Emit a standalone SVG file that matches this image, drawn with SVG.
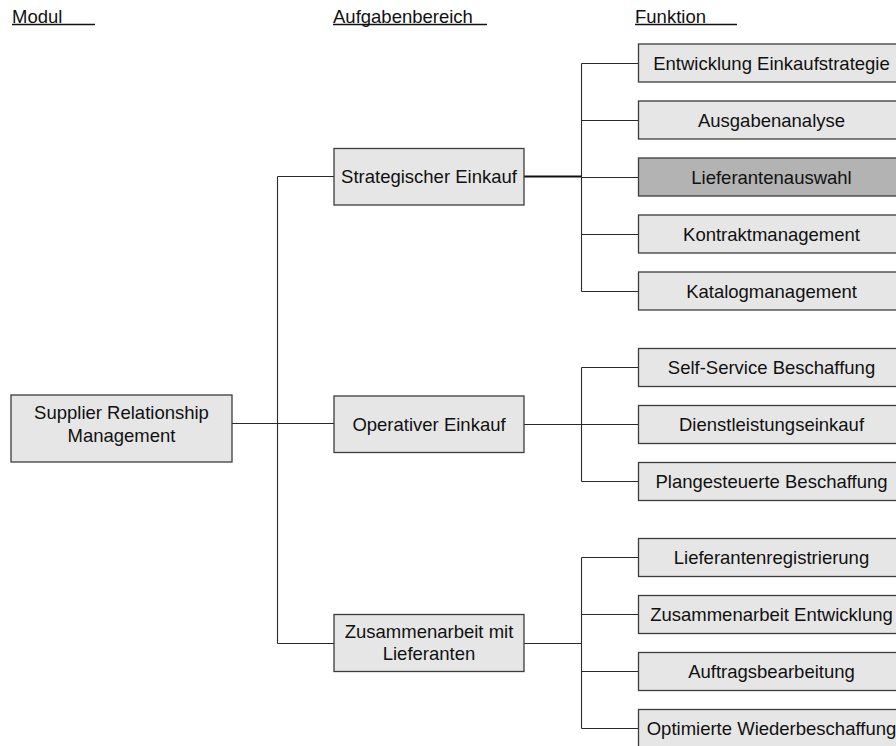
<svg xmlns="http://www.w3.org/2000/svg" width="896" height="746" viewBox="0 0 896 746">
  <style>
    text { font-family: "Liberation Sans", Arial, sans-serif; font-size: 18.5px; fill: #111; }
    .lbl { text-anchor: middle; }
    .box { fill: #e6e6e6; stroke: #3c3c3c; stroke-width: 1.3; }
    .hl { fill: #b3b3b3; }
    .con { stroke: #2a2a2a; stroke-width: 1.1; fill: none; }
    .thick { stroke: #111; stroke-width: 2; }
    .rule { stroke: #111; stroke-width: 1.3; }
  </style>

  <rect width="896" height="746" fill="#ffffff"/>

  <!-- column headings -->
  <g id="headings">
    <text x="12" y="23">Modul</text>
    <line class="rule" x1="12" y1="24.5" x2="95" y2="24.5"/>
    <text x="333" y="23">Aufgabenbereich</text>
    <line class="rule" x1="333" y1="24.5" x2="487" y2="24.5"/>
    <text x="635" y="23">Funktion</text>
    <line class="rule" x1="635" y1="24.5" x2="737" y2="24.5"/>
  </g>

  <!-- connectors -->
  <g id="connectors">
    <line class="con" x1="232" y1="423.5" x2="334" y2="423.5"/>
    <line class="con" x1="277.5" y1="176.5" x2="277.5" y2="643.5"/>
    <line class="con" x1="277.5" y1="176.5" x2="334" y2="176.5"/>
    <line class="con" x1="277.5" y1="643.5" x2="334" y2="643.5"/>

    <line class="con thick" x1="524" y1="176.5" x2="581.5" y2="176.5"/>
    <line class="con" x1="581.5" y1="63.5" x2="581.5" y2="291.5"/>
    <line class="con" x1="581.5" y1="63.5" x2="638.5" y2="63.5"/>
    <line class="con" x1="581.5" y1="120.5" x2="638.5" y2="120.5"/>
    <line class="con" x1="581.5" y1="177.5" x2="638.5" y2="177.5"/>
    <line class="con" x1="581.5" y1="234.5" x2="638.5" y2="234.5"/>
    <line class="con" x1="581.5" y1="291.5" x2="638.5" y2="291.5"/>

    <line class="con" x1="524" y1="424.5" x2="581.5" y2="424.5"/>
    <line class="con" x1="581.5" y1="367.5" x2="581.5" y2="481.5"/>
    <line class="con" x1="581.5" y1="367.5" x2="638.5" y2="367.5"/>
    <line class="con" x1="581.5" y1="424.5" x2="638.5" y2="424.5"/>
    <line class="con" x1="581.5" y1="481.5" x2="638.5" y2="481.5"/>

    <line class="con" x1="524" y1="643.5" x2="581.5" y2="643.5"/>
    <line class="con" x1="581.5" y1="557.5" x2="581.5" y2="728.5"/>
    <line class="con" x1="581.5" y1="557.5" x2="638.5" y2="557.5"/>
    <line class="con" x1="581.5" y1="614.5" x2="638.5" y2="614.5"/>
    <line class="con" x1="581.5" y1="671.5" x2="638.5" y2="671.5"/>
    <line class="con" x1="581.5" y1="728.5" x2="638.5" y2="728.5"/>
  </g>

  <!-- module -->
  <g id="srm">
    <rect class="box" x="11" y="395" width="221" height="67"/>
    <text class="lbl" x="121.5" y="419">Supplier Relationship</text>
    <text class="lbl" x="121.5" y="442">Management</text>
  </g>

  <!-- task areas -->
  <g id="strategischer-einkauf">
    <rect class="box" x="334" y="148.5" width="190" height="56.5"/>
    <text class="lbl" x="429" y="183">Strategischer Einkauf</text>
  </g>
  <g id="operativer-einkauf">
    <rect class="box" x="334" y="396" width="190" height="56.5"/>
    <text class="lbl" x="429" y="430.5">Operativer Einkauf</text>
  </g>
  <g id="zusammenarbeit-lieferanten">
    <rect class="box" x="334" y="614.5" width="190" height="57"/>
    <text class="lbl" x="429" y="637.5">Zusammenarbeit mit</text>
    <text class="lbl" x="429" y="660">Lieferanten</text>
  </g>

  <!-- functions -->
  <g id="f-einkaufstrategie">
    <rect class="box" x="638.5" y="44" width="266" height="38"/>
    <text class="lbl" x="771.5" y="69.5">Entwicklung Einkaufstrategie</text>
  </g>
  <g id="f-ausgabenanalyse">
    <rect class="box" x="638.5" y="101" width="266" height="38"/>
    <text class="lbl" x="771.5" y="126.5">Ausgabenanalyse</text>
  </g>
  <g id="f-lieferantenauswahl">
    <rect class="box hl" x="638.5" y="158" width="266" height="38"/>
    <text class="lbl" x="771.5" y="183.5">Lieferantenauswahl</text>
  </g>
  <g id="f-kontraktmanagement">
    <rect class="box" x="638.5" y="215" width="266" height="38"/>
    <text class="lbl" x="771.5" y="240.5">Kontraktmanagement</text>
  </g>
  <g id="f-katalogmanagement">
    <rect class="box" x="638.5" y="272" width="266" height="38"/>
    <text class="lbl" x="771.5" y="297.5">Katalogmanagement</text>
  </g>

  <g id="f-self-service">
    <rect class="box" x="638.5" y="348.5" width="266" height="38"/>
    <text class="lbl" x="771.5" y="374">Self-Service Beschaffung</text>
  </g>
  <g id="f-dienstleistungseinkauf">
    <rect class="box" x="638.5" y="405.5" width="266" height="38"/>
    <text class="lbl" x="771.5" y="431">Dienstleistungseinkauf</text>
  </g>
  <g id="f-plangesteuert">
    <rect class="box" x="638.5" y="462.5" width="266" height="38"/>
    <text class="lbl" x="771.5" y="488">Plangesteuerte Beschaffung</text>
  </g>

  <g id="f-lieferantenregistrierung">
    <rect class="box" x="638.5" y="538.5" width="266" height="38"/>
    <text class="lbl" x="771.5" y="564">Lieferantenregistrierung</text>
  </g>
  <g id="f-zusammenarbeit-entwicklung">
    <rect class="box" x="638.5" y="595.5" width="266" height="38"/>
    <text class="lbl" x="771.5" y="621">Zusammenarbeit Entwicklung</text>
  </g>
  <g id="f-auftragsbearbeitung">
    <rect class="box" x="638.5" y="652.5" width="266" height="38"/>
    <text class="lbl" x="771.5" y="678">Auftragsbearbeitung</text>
  </g>
  <g id="f-wiederbeschaffung">
    <rect class="box" x="638.5" y="709.5" width="266" height="38"/>
    <text class="lbl" x="771.5" y="735">Optimierte Wiederbeschaffung</text>
  </g>
</svg>
